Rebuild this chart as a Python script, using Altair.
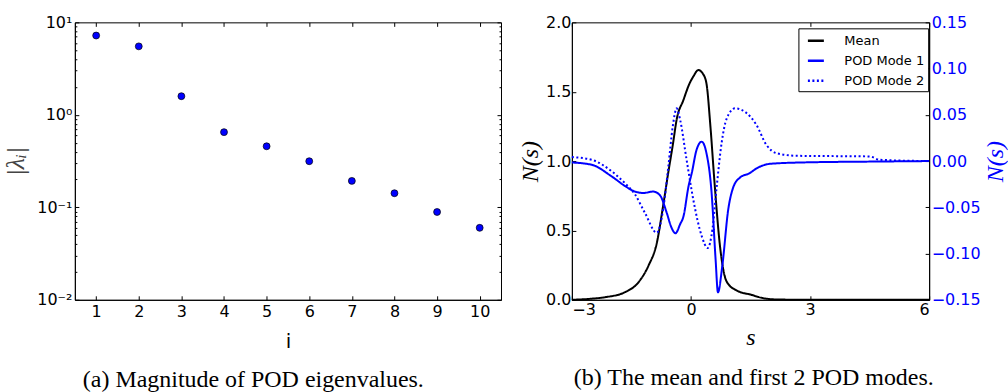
import altair as alt
import pandas as pd

# ---------------- data ----------------
eig_i = [1, 2, 3, 4, 5, 6, 7, 8, 9, 10]
eig_mag = [7.2, 5.5, 1.59, 0.65, 0.457, 0.315, 0.193, 0.142, 0.089, 0.060]

mean_s = [-3.0, -2.5, -2.16, -1.66, -1.32, -1.07, -0.86, -0.70, -0.57, -0.45,
          -0.36, -0.19, -0.05, 0.06, 0.185, 0.30, 0.39, 0.49, 0.60, 0.73,
          0.85, 0.98, 1.1, 1.3, 1.5, 1.7, 1.9, 2.2, 3.0, 6.0]
mean_v = [0.0, 0.008, 0.019, 0.055, 0.127, 0.246, 0.41, 0.68, 0.92, 1.13,
          1.30, 1.44, 1.55, 1.61, 1.656, 1.63, 1.56, 1.25, 0.82, 0.39,
          0.17, 0.10, 0.075, 0.05, 0.038, 0.02, 0.008, 0.002, 0.0, 0.0]

mode1_s = [-3.0, -2.5, -2.0, -1.66, -1.41, -1.20, -0.95, -0.78, -0.61, -0.49,
           -0.39, -0.27, -0.19, -0.06, 0.02, 0.14, 0.27, 0.39, 0.52, 0.62,
           0.68, 0.79, 0.94, 1.06, 1.23, 1.48, 1.65, 1.99, 2.8, 4.7, 6.0]
mode1_v = [-0.0015, -0.004, -0.0165, -0.027, -0.033, -0.0345, -0.033, -0.037, -0.056, -0.072,
           -0.078, -0.068, -0.060, -0.027, -0.013, 0.012, 0.021, 0.0086, -0.0345, -0.106,
           -0.142, -0.113, -0.052, -0.029, -0.018, -0.013, -0.008, -0.003, -0.0015, -0.0005, 0.0]

mode2_s = [-3.0, -2.5, -2.0, -1.66, -1.41, -1.16, -0.86, -0.70, -0.57, -0.46,
           -0.36, -0.27, -0.11, 0.06, 0.27, 0.42, 0.54, 0.65, 0.77, 0.90,
           1.11, 1.40, 1.65, 1.90, 2.15, 2.66, 4.5, 4.75, 6.0]
mode2_v = [0.0043, 0.0014, -0.011, -0.024, -0.036, -0.056, -0.0775, -0.052, -0.006, 0.037,
           0.057, 0.044, 0.0014, -0.042, -0.081, -0.094, -0.074, -0.027, 0.019, 0.046,
           0.057, 0.052, 0.039, 0.0175, 0.0086, 0.0057, 0.005, 0.0014, 0.0]

series_names = ["Mean", "POD Mode 1", "POD Mode 2"]

eig_df = pd.DataFrame({"i": eig_i, "lam": eig_mag})
mean_df = pd.DataFrame({"s": mean_s, "N": mean_v, "series": "Mean"})
modes_df = pd.concat([
    pd.DataFrame({"s": mode1_s, "N": mode1_v, "series": "POD Mode 1"}),
    pd.DataFrame({"s": mode2_s, "N": mode2_v, "series": "POD Mode 2"}),
])

SANS = "DejaVu Sans"
SERIF = "Liberation Serif"
BLUE = "#0000ff"
WA, WB, H = 427, 358, 278

# ---------------- panel (a) ----------------
xs_a = alt.Scale(domain=[0.5, 10.5], nice=False, zero=False)
ys_a = alt.Scale(type="log", domain=[0.01, 10], nice=False)
major_a = [0.01, 0.1, 1, 10]
minor_a = [m * d for d in [0.01, 0.1, 1] for m in range(2, 10)]


def tick_axis(orient, values, size):
    return alt.Axis(orient=orient, values=values, labels=False, domain=False,
                    ticks=True, tickSize=size, offset=-size, title=None,
                    tickColor="black")


pts = alt.Chart(eig_df).mark_circle(
    size=48, color=BLUE, opacity=1, stroke="black", strokeWidth=0.7
).encode(
    x=alt.X("i:Q", scale=xs_a, axis=alt.Axis(
        values=eig_i, title="i", ticks=False, labelPadding=4, titlePadding=12,
        titleFont=SANS, titleFontSize=20, titleFontWeight="normal")),
    y=alt.Y("lam:Q", scale=ys_a, axis=alt.Axis(
        values=major_a, ticks=False, labelPadding=3, title="|λᵢ|",
        titleFont=SERIF, titleFontStyle="italic", titleFontSize=26,
        titleFontWeight="normal", titleColor="#444", titlePadding=8,
        labelExpr="datum.value >= 5 ? '10¹' : datum.value >= 0.5 ? '10⁰' : datum.value >= 0.05 ? '10⁻¹' : '10⁻²'")),
).properties(width=WA, height=H)

ticks_a1 = alt.Chart(eig_df).mark_point(opacity=0).encode(
    x=alt.X("i:Q", scale=xs_a, axis=tick_axis("bottom", eig_i, 4)),
    y=alt.Y("lam:Q", scale=ys_a, axis=tick_axis("left", major_a, 4)),
).properties(width=WA, height=H)
ticks_a2 = alt.Chart(eig_df).mark_point(opacity=0).encode(
    x=alt.X("i:Q", scale=xs_a, axis=tick_axis("top", eig_i, 4)),
    y=alt.Y("lam:Q", scale=ys_a, axis=tick_axis("right", major_a, 4)),
).properties(width=WA, height=H)
ticks_a3 = alt.Chart(eig_df).mark_point(opacity=0).encode(
    x=alt.X("i:Q", scale=xs_a, axis=None),
    y=alt.Y("lam:Q", scale=ys_a, axis=tick_axis("left", minor_a, 2)),
).properties(width=WA, height=H)
ticks_a4 = alt.Chart(eig_df).mark_point(opacity=0).encode(
    x=alt.X("i:Q", scale=xs_a, axis=None),
    y=alt.Y("lam:Q", scale=ys_a, axis=tick_axis("right", minor_a, 2)),
).properties(width=WA, height=H)

panel_a = alt.layer(pts, ticks_a1, ticks_a2, ticks_a3, ticks_a4).resolve_axis(
    x="independent", y="independent"
).properties(
    title=alt.TitleParams("(a) Magnitude of POD eigenvalues.", orient="bottom",
                          anchor="start", frame="group", dx=8,
                          font=SERIF, fontSize=24, fontWeight="normal",
                          color="black", offset=16),
)

# ---------------- panel (b) ----------------
xs_b = alt.Scale(domain=[-3, 6], nice=False, zero=False)
yl_b = alt.Scale(domain=[0, 2], nice=False, zero=False)
yr_b = alt.Scale(domain=[-0.15, 0.15], nice=False, zero=False)
color_scale = alt.Scale(domain=series_names, range=["black", BLUE, BLUE])
dash_scale = alt.Scale(domain=series_names, range=[[1, 0], [1, 0], [2, 2.5]])
legend = alt.Legend(
    title=None, orient="none", legendX=725, legendY=6,
    strokeColor="black", fillColor="white", padding=3, cornerRadius=0,
    labelFont=SANS, labelFontSize=13, labelColor="black",
    symbolOffset=5, labelOffset=19,
    symbolType="stroke", symbolSize=256, symbolStrokeWidth=2.4, rowPadding=3,
)

mean_line = alt.Chart(mean_df).mark_line(strokeWidth=2, interpolate="monotone").encode(
    x=alt.X("s:Q", scale=xs_b, axis=alt.Axis(
        values=[-3, 0, 3, 6], ticks=False, labelPadding=2, title="s",
        titleFont=SERIF, titleFontStyle="italic", titleFontSize=24,
        titleFontWeight="normal", titlePadding=8)),
    y=alt.Y("N:Q", scale=yl_b, axis=alt.Axis(
        orient="left", values=[0, 0.5, 1, 1.5, 2], format=".1f", ticks=False,
        labelPadding=1, title="N(s)", titleFont=SERIF, titleFontStyle="italic",
        titleFontSize=24, titleFontWeight="normal", titlePadding=3)),
    color=alt.Color("series:N", scale=color_scale, legend=legend),
    strokeDash=alt.StrokeDash("series:N", scale=dash_scale, legend=legend),
).properties(width=WB, height=H)

mode_lines = alt.Chart(modes_df).mark_line(strokeWidth=2, interpolate="monotone").encode(
    x=alt.X("s:Q", scale=xs_b, axis=None),
    y=alt.Y("N:Q", scale=yr_b, axis=alt.Axis(
        orient="right", values=[-0.15, -0.1, -0.05, 0, 0.05, 0.1, 0.15],
        format=".2f", ticks=False, labelPadding=2, labelColor=BLUE,
        title="N(s)", titleColor=BLUE, titleFont=SERIF, titleFontStyle="italic",
        titleFontSize=24, titleFontWeight="normal", titlePadding=3,
        titleAngle=270, titleBaseline="top")),
    color=alt.Color("series:N", scale=color_scale, legend=legend),
    strokeDash=alt.StrokeDash("series:N", scale=dash_scale, legend=legend),
    detail="series:N",
).properties(width=WB, height=H)

ticks_b1 = alt.Chart(mean_df).mark_point(opacity=0).encode(
    x=alt.X("s:Q", scale=xs_b, axis=tick_axis("bottom", [-3, 0, 3, 6], 4)),
    y=alt.Y("N:Q", scale=yl_b, axis=tick_axis("left", [0, 0.5, 1, 1.5, 2], 4)),
).properties(width=WB, height=H)
ticks_b2 = alt.Chart(modes_df).mark_point(opacity=0).encode(
    x=alt.X("s:Q", scale=xs_b, axis=tick_axis("top", [-3, 0, 3, 6], 4)),
    y=alt.Y("N:Q", scale=yr_b, axis=tick_axis(
        "right", [-0.15, -0.1, -0.05, 0, 0.05, 0.1, 0.15], 4)),
).properties(width=WB, height=H)

panel_b = alt.layer(mean_line, mode_lines, ticks_b1, ticks_b2).resolve_scale(
    y="independent"
).resolve_axis(x="independent", y="independent").properties(
    title=alt.TitleParams("(b) The mean and first 2 POD modes.", orient="bottom",
                          anchor="start", frame="group", dx=2,
                          font=SERIF, fontSize=24, fontWeight="normal",
                          color="black", offset=16),
)

chart = alt.hconcat(panel_a, panel_b, spacing=16).properties(
    padding={"left": 2, "top": 13, "right": 0, "bottom": 0},
    background="white",
).configure_view(
    stroke="black", strokeWidth=1
).configure_axis(
    grid=False, labelFont=SANS, labelFontSize=16, labelColor="black",
    domainColor="black", domainWidth=1,
)

chart.save("out.html", embed_options={"renderer": "svg", "actions": False})
